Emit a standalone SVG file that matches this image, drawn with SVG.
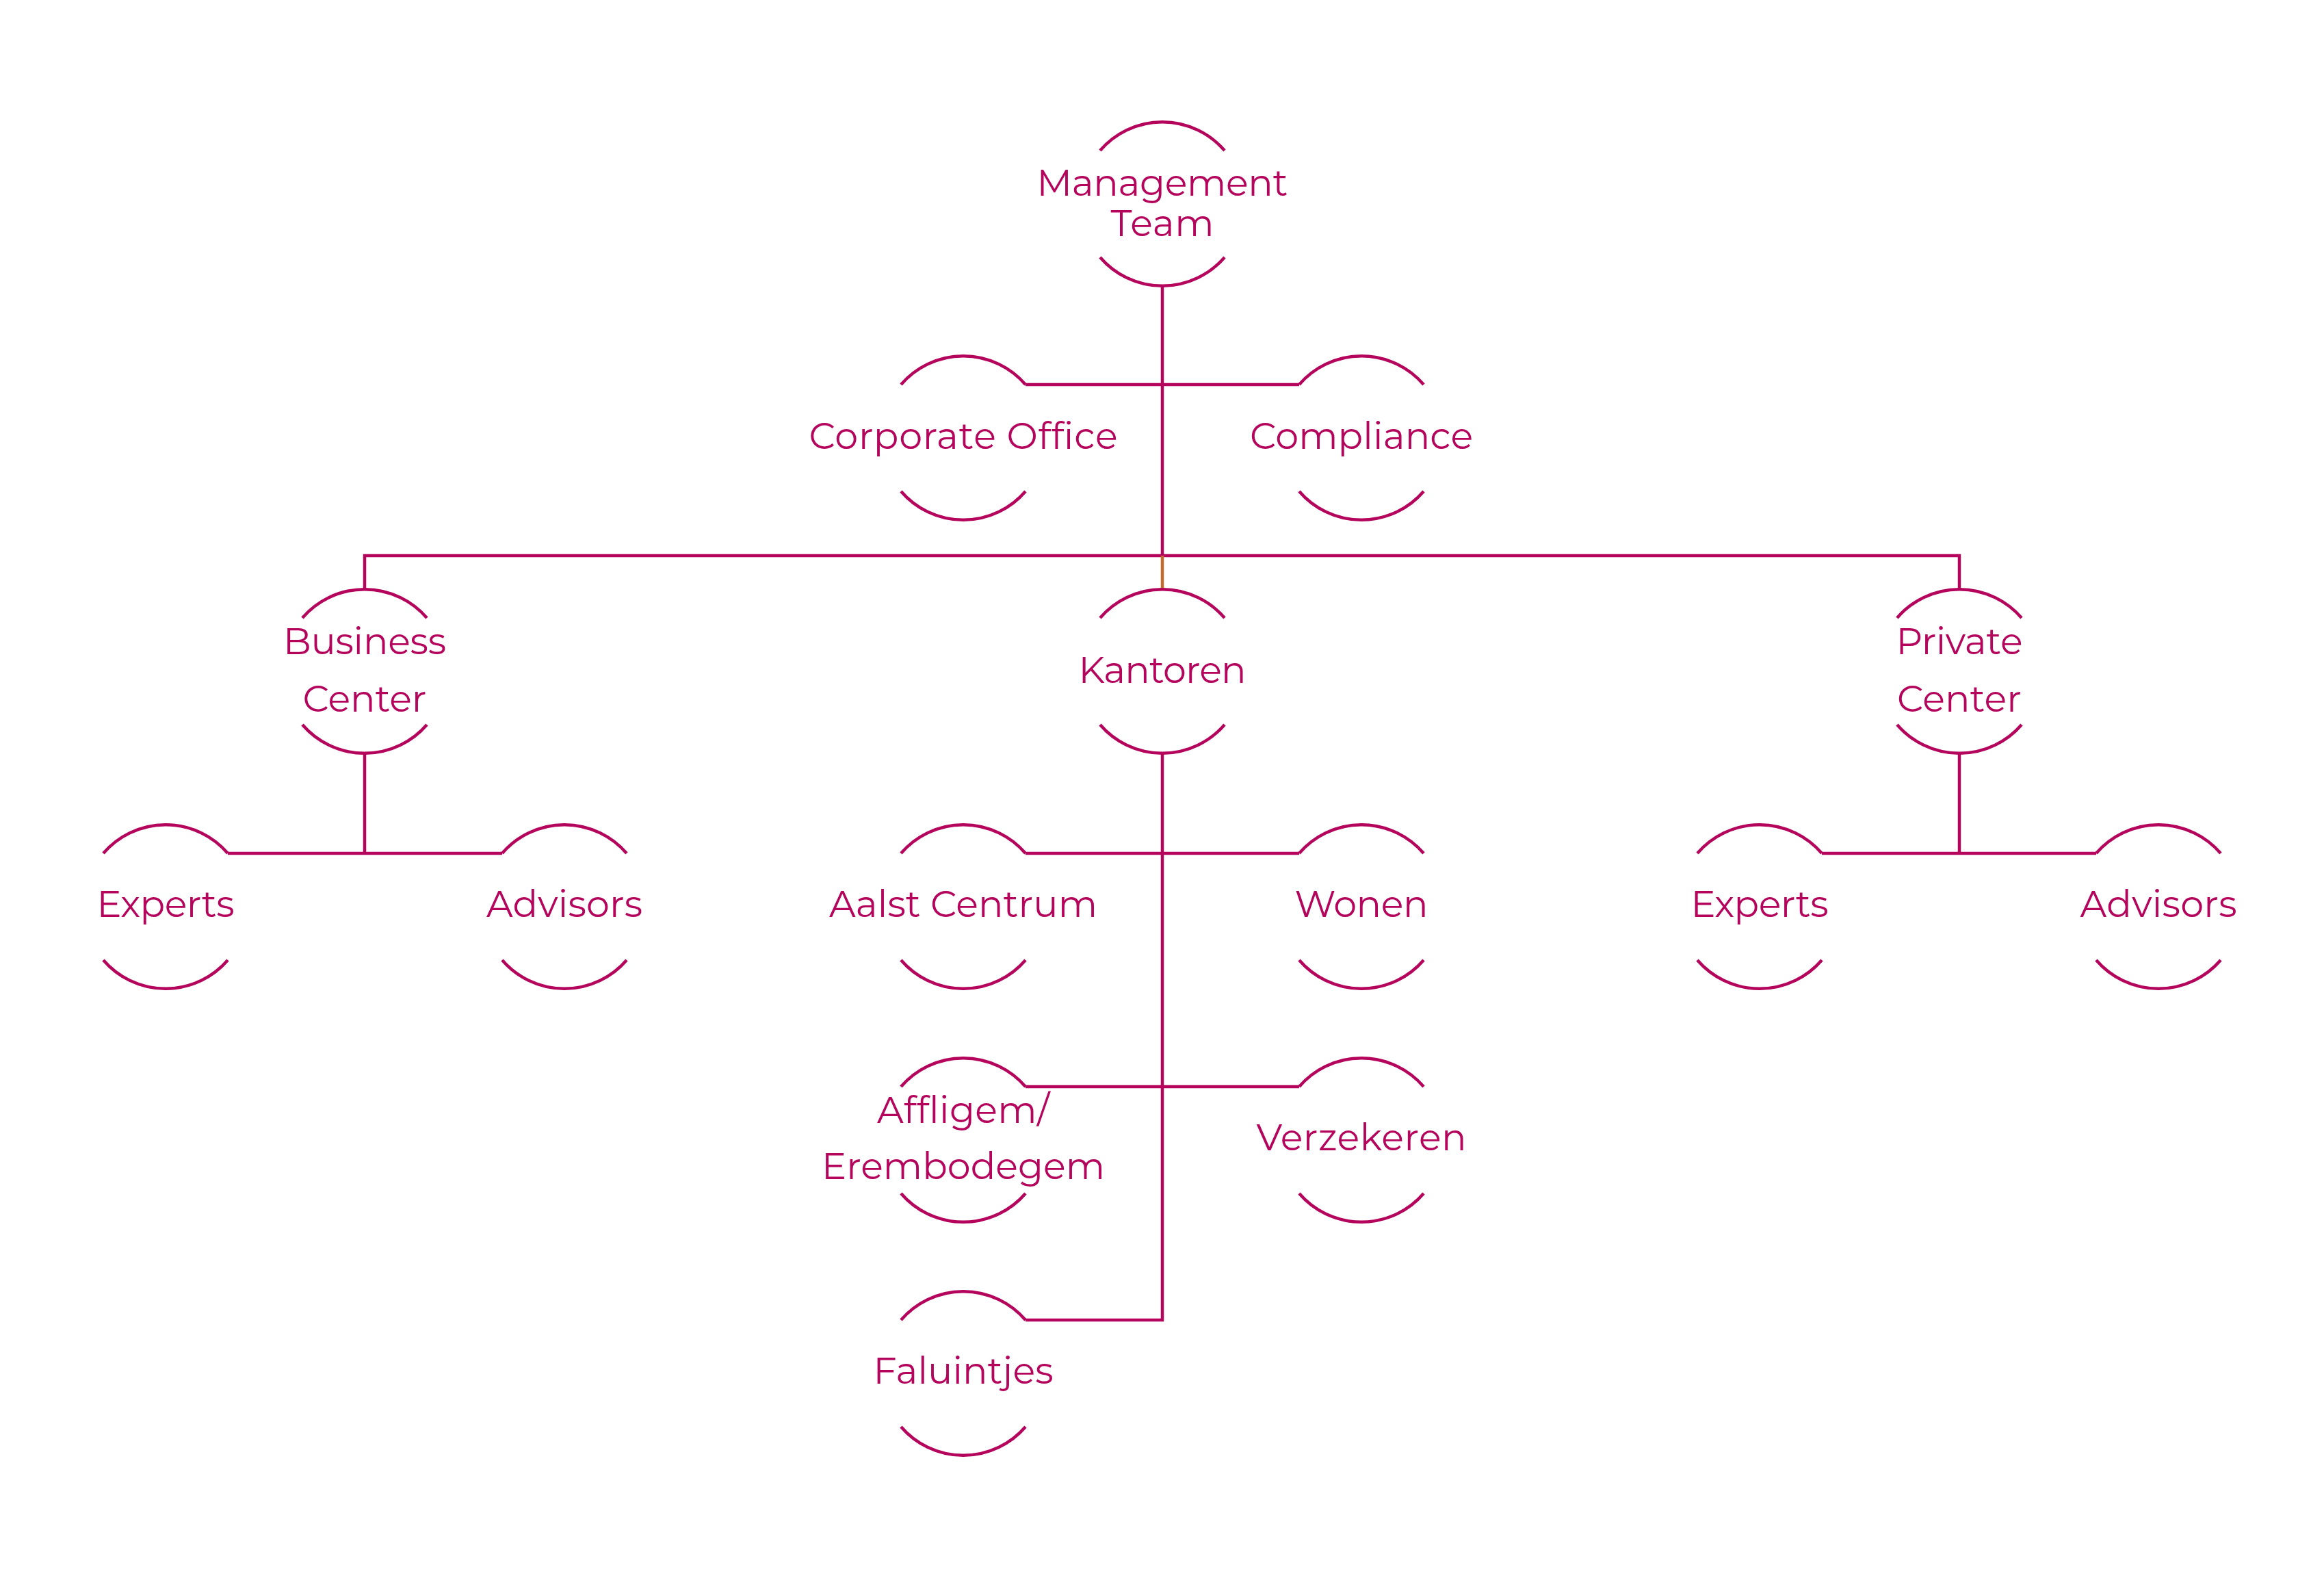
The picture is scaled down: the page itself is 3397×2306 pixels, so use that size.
<svg xmlns="http://www.w3.org/2000/svg" width="3397" height="2306" viewBox="0 0 3397 2306">
<style>
.arc{fill:none;stroke:#B4045C;stroke-width:4.5}
.ln{fill:none;stroke:#B4045C;stroke-width:4.5}
.or{fill:none;stroke:#C4692E;stroke-width:4.5}
text{font-family:Montserrat,"DejaVu Sans","Open Sans",sans-serif;font-size:54px;fill:#B4045C;text-anchor:middle}
</style>
<rect width="3397" height="2306" fill="#ffffff"/>
<g id="connectors">
<path class="ln" d="M1699 418 V812"/>
<path class="ln" d="M1499 562 H1899"/>
<path class="ln" d="M533 861 V812 H2864 V861"/>
<path class="or" d="M1699 812 V861"/>
<path class="ln" d="M1699 1101 V1929 H1499"/>
<path class="ln" d="M1499 1247 H1899"/>
<path class="ln" d="M1499 1588 H1899"/>
<path class="ln" d="M533 1101 V1247"/>
<path class="ln" d="M333 1247 H734"/>
<path class="ln" d="M2864 1101 V1247"/>
<path class="ln" d="M2663 1247 H3064"/>
</g>
<g id="management-team">
<path class="arc" d="M1608 220 A120 120 0 0 1 1790 220 M1608 376 A120 120 0 0 0 1790 376"/>
<text x="1699" y="286" textLength="367" lengthAdjust="spacing">Management</text>
<text x="1699" y="345" textLength="151" lengthAdjust="spacing">Team</text>
</g>
<g id="corporate-office">
<path class="arc" d="M1317 562 A120 120 0 0 1 1499 562 M1317 718 A120 120 0 0 0 1499 718"/>
<text x="1408" y="656" textLength="451" lengthAdjust="spacing">Corporate Office</text>
</g>
<g id="compliance">
<path class="arc" d="M1899 562 A120 120 0 0 1 2081 562 M1899 718 A120 120 0 0 0 2081 718"/>
<text x="1990" y="656" textLength="326" lengthAdjust="spacing">Compliance</text>
</g>
<g id="business-center">
<path class="arc" d="M442 903 A120 120 0 0 1 624 903 M442 1059 A120 120 0 0 0 624 1059"/>
<text x="533" y="956" textLength="238" lengthAdjust="spacing">Business</text>
<text x="533" y="1040" textLength="181" lengthAdjust="spacing">Center</text>
</g>
<g id="kantoren">
<path class="arc" d="M1608 903 A120 120 0 0 1 1790 903 M1608 1059 A120 120 0 0 0 1790 1059"/>
<text x="1699" y="998" textLength="245" lengthAdjust="spacing">Kantoren</text>
</g>
<g id="private-center">
<path class="arc" d="M2773 903 A120 120 0 0 1 2955 903 M2773 1059 A120 120 0 0 0 2955 1059"/>
<text x="2864" y="956" textLength="185" lengthAdjust="spacing">Private</text>
<text x="2864" y="1040" textLength="182" lengthAdjust="spacing">Center</text>
</g>
<g id="experts-business">
<path class="arc" d="M151 1247 A120 120 0 0 1 333 1247 M151 1403 A120 120 0 0 0 333 1403"/>
<text x="242" y="1340" textLength="201" lengthAdjust="spacing">Experts</text>
</g>
<g id="advisors-business">
<path class="arc" d="M734 1247 A120 120 0 0 1 916 1247 M734 1403 A120 120 0 0 0 916 1403"/>
<text x="825" y="1340" textLength="228" lengthAdjust="spacing">Advisors</text>
</g>
<g id="aalst-centrum">
<path class="arc" d="M1317 1247 A120 120 0 0 1 1499 1247 M1317 1403 A120 120 0 0 0 1499 1403"/>
<text x="1408" y="1340" textLength="392" lengthAdjust="spacing">Aalst Centrum</text>
</g>
<g id="wonen">
<path class="arc" d="M1899 1247 A120 120 0 0 1 2081 1247 M1899 1403 A120 120 0 0 0 2081 1403"/>
<text x="1990" y="1340" textLength="195" lengthAdjust="spacing">Wonen</text>
</g>
<g id="experts-private">
<path class="arc" d="M2481 1247 A120 120 0 0 1 2663 1247 M2481 1403 A120 120 0 0 0 2663 1403"/>
<text x="2572" y="1340" textLength="201" lengthAdjust="spacing">Experts</text>
</g>
<g id="advisors-private">
<path class="arc" d="M3064 1247 A120 120 0 0 1 3246 1247 M3064 1403 A120 120 0 0 0 3246 1403"/>
<text x="3155" y="1340" textLength="229" lengthAdjust="spacing">Advisors</text>
</g>
<g id="affligem-erembodegem">
<path class="arc" d="M1317 1588 A120 120 0 0 1 1499 1588 M1317 1744 A120 120 0 0 0 1499 1744"/>
<text x="1408" y="1641" textLength="252" lengthAdjust="spacing">Affligem/</text>
<text x="1408" y="1723" textLength="414" lengthAdjust="spacing">Erembodegem</text>
</g>
<g id="verzekeren">
<path class="arc" d="M1899 1588 A120 120 0 0 1 2081 1588 M1899 1744 A120 120 0 0 0 2081 1744"/>
<text x="1990" y="1681" textLength="307" lengthAdjust="spacing">Verzekeren</text>
</g>
<g id="faluintjes">
<path class="arc" d="M1317 1929 A120 120 0 0 1 1499 1929 M1317 2085 A120 120 0 0 0 1499 2085"/>
<text x="1408" y="2022" textLength="263" lengthAdjust="spacing">Faluintjes</text>
</g>
</svg>
